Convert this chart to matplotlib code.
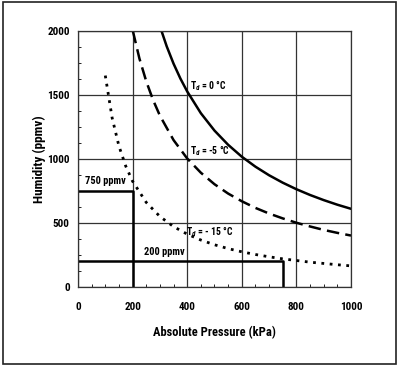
import matplotlib
matplotlib.use("Agg")
import matplotlib.pyplot as plt
from matplotlib.patches import Rectangle
from matplotlib.ticker import MultipleLocator

plt.rcParams['font.family'] = ['Roboto Condensed', 'Barlow Semi Condensed', 'DejaVu Sans']
plt.rcParams['font.weight'] = 'bold'
plt.rcParams['mathtext.fontset'] = 'custom'
plt.rcParams['mathtext.rm'] = 'Barlow Semi Condensed:bold'
plt.rcParams['mathtext.it'] = 'Barlow Semi Condensed:italic:bold'

# curvas (presion kPa, humedad ppmv)
p_0 = [306, 325, 350, 375, 400, 450, 500, 550, 600, 650, 700, 750, 800, 850, 900, 950, 1000]
h_0 = [2000, 1880, 1745, 1629, 1528, 1358, 1222, 1111, 1018, 940, 873, 815, 764, 719, 679, 643, 611]

p_5 = [201, 225, 250, 275, 300, 350, 400, 450, 500, 550, 600, 650, 700, 750, 800, 850, 900, 950, 1000]
h_5 = [2000, 1785, 1607, 1461, 1339, 1148, 1004, 893, 803, 730, 670, 618, 574, 536, 502, 473, 446, 423, 402]

p_15 = [100, 125, 150, 175, 200, 250, 300, 350, 400, 450, 500, 550, 600, 650, 700,
        750, 800, 850, 900, 950, 1000]
h_15 = [1652, 1322, 1101, 944, 826, 661, 551, 472, 413, 367, 330, 300, 275, 254, 236,
        220, 207, 194, 184, 174, 165]

# lineas de referencia
box750_x = [0, 200, 200]
box750_y = [750, 750, 0]
box200_x = [0, 750, 750]
box200_y = [200, 200, 0]

fig = plt.figure(figsize=(4.01, 3.71), dpi=100)
ax = fig.add_axes([0.1945, 0.2264, 0.6808, 0.69])

ax.plot(p_0, h_0, color='black', lw=1.8)
ax.plot(p_5, h_5, color='black', lw=1.8, linestyle=(0, (5, 2.5)))
ax.plot(p_15, h_15, color='black', lw=2, linestyle=(0, (1, 2)))
ax.plot(box750_x, box750_y, color='black', lw=1.8)
ax.plot(box200_x, box200_y, color='black', lw=1.8)

ax.set_xlim(0, 1000)
ax.set_ylim(0, 2000)
ax.xaxis.set_major_locator(MultipleLocator(200))
ax.yaxis.set_major_locator(MultipleLocator(500))
ax.xaxis.set_minor_locator(MultipleLocator(50))
ax.yaxis.set_minor_locator(MultipleLocator(125))
ax.grid(True, which='major', color='#333333', lw=0.9)
ax.tick_params(which='both', direction='in', labelsize=8)
ax.tick_params(which='major', length=0)
ax.tick_params(axis='x', which='major', pad=11)
ax.tick_params(axis='y', which='major', pad=6)
ax.tick_params(which='minor', length=2)
for lab in ax.get_xticklabels() + ax.get_yticklabels():
    lab.set_fontweight('bold')
for s in ax.spines.values():
    s.set_color('#333333')
    s.set_linewidth(0.9)

ax.set_xlabel('Absolute Pressure (kPa)', fontsize=9, fontweight='bold', labelpad=10)
ax.set_ylabel('Humidity (ppmv)', fontsize=9.5, fontweight='bold', labelpad=1)

ax.text(412, 1570, r'T$_d$ = 0 °C', fontsize=7, fontweight='bold', va='center')
ax.text(412, 1065, r'T$_d$ = -5 °C', fontsize=7, fontweight='bold', va='center')
ax.text(395, 430, r'T$_d$ = - 15 °C', fontsize=7, fontweight='bold', va='center')
ax.text(25, 825, '750 ppmv', fontsize=7.5, fontweight='bold', va='center')
ax.text(240, 270, '200 ppmv', fontsize=7.5, fontweight='bold', va='center')

fig.patches.append(Rectangle((0.008, 0.018), 0.98, 0.976, transform=fig.transFigure,
                             fill=False, edgecolor='#222222', lw=1.2))

fig.savefig('out.png', dpi=100)
